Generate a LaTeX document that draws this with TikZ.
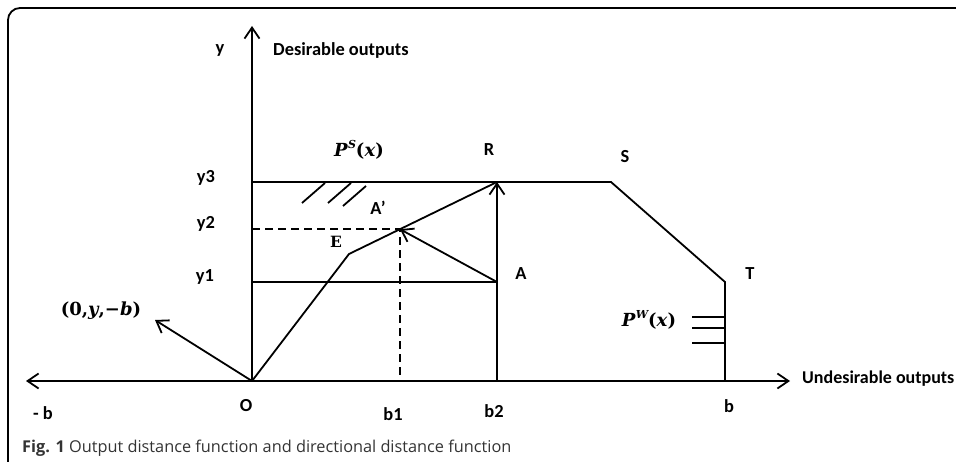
\documentclass[tikz,border=0pt]{standalone}
\usepackage{fontspec}
\setmainfont{Carlito}
\newfontfamily\capfont{Open Sans}
\newfontfamily\mf{DejaVu Serif}
\usetikzlibrary{arrows.meta}
\definecolor{capgray}{HTML}{333333}
\newcommand{\supS}[1]{\raisebox{0.42em}{\fontsize{11}{12}\selectfont\itshape #1}}
\begin{document}
\begin{tikzpicture}[x=1pt,y=-1pt,
  ln/.style={line width=1.8pt},
  arr/.style={ln,-{Straight Barb[length=11pt,width=15pt,line width=1.8pt]}},
  dsh/.style={line width=1.8pt,dash pattern=on 8pt off 5pt},
  lbl/.style={font=\bfseries\fontsize{18.4}{21}\selectfont, inner sep=0pt},
  mth/.style={font=\mf\bfseries\fontsize{18}{20}\selectfont, inner sep=0pt}]
\useasboundingbox (0,0) rectangle (956,462);
% frame
\draw[line width=1.8pt, rounded corners=12pt] (8,466) -- (8,8) -- (962,8);
% points
\coordinate (O) at (252,381);
\coordinate (ytop) at (252,26);
\coordinate (xl) at (26,381);
\coordinate (xr) at (790,381);
\coordinate (Y3) at (252,182);
\coordinate (R) at (497,182);
\coordinate (S) at (611,182);
\coordinate (T) at (725,282);
\coordinate (bT) at (725,381);
\coordinate (Y1) at (252,282);
\coordinate (A) at (497,282);
\coordinate (B2) at (497,381);
\coordinate (E) at (349,254);
\coordinate (Ap) at (400,229.2);
\coordinate (Y2) at (252,229.2);
\coordinate (B1) at (400,381);
\coordinate (D) at (155,320);
% axes
\draw[arr] (O) -- (ytop);
\draw[arr] (O) -- (xr);
\draw[arr] (O) -- (xl);
% frontier
\draw[ln] (Y3) -- (S) -- (T) -- (bT);
\draw[ln] (Y1) -- (A);
\draw[arr] (B2) -- (R);
\draw[ln] (O) -- (E) -- (R);
\draw[arr] (A) -- (Ap);
\draw[dsh] (Y2) -- (Ap) -- (B1);
\draw[arr] (O) -- (D);
% hatches
\draw[ln] (302,203) -- (325,183);
\draw[ln] (328,203) -- (351,183);
\draw[ln] (343,206) -- (366,186);
\draw[ln] (692,317) -- (725,317);
\draw[ln] (692,328) -- (725,328);
\draw[ln] (692,343) -- (725,343);
% labels
\node[lbl] (ly) at (220,50) {y};
\node[lbl,anchor=west] (ldes) at (273,50) {Desirable outputs};
\node[mth] (lps) at (359,150) {\textit{P}\supS{S}(\textit{x})};
\node[lbl] (lR) at (489,150) {R};
\node[lbl] (lS) at (625,157) {S};
\node[lbl] (ly3) at (206,178) {y3};
\node[lbl] (ly2) at (206,224) {y2};
\node[lbl] (ly1) at (205,277) {y1};
\node[lbl] (lAp) at (378,208) {A'};
\node[font=\mf\bfseries\fontsize{15.5}{18}\selectfont,inner sep=0pt] (lE) at (336,242) {E};
\node[lbl] (lA) at (521,274) {A};
\node[lbl] (lT) at (750,274) {T};
\node[mth] (lpw) at (649,320) {\textit{P}\supS{W}(\textit{x})};
\node[mth] (ld) at (101,311) {(0,\textit{y},−\textit{b})};
\node[lbl] (lO) at (246,406) {O};
\node[lbl] (lmb) at (43,413) {- b};
\node[lbl] (lb1) at (393,414) {b1};
\node[lbl] (lb2) at (494,411) {b2};
\node[lbl] (lb) at (729,406) {b};
\node[lbl,font=\bfseries\fontsize{18}{21}\selectfont,anchor=west] (lund) at (802,379) {Undesirable outputs};
\node[anchor=base west,inner sep=0pt,text=capgray,font=\capfont\fontsize{16.3}{18}\selectfont] (cap) at (22,452) {\textbf{Fig. 1} Output distance function and directional distance function};
\end{tikzpicture}
\end{document}
